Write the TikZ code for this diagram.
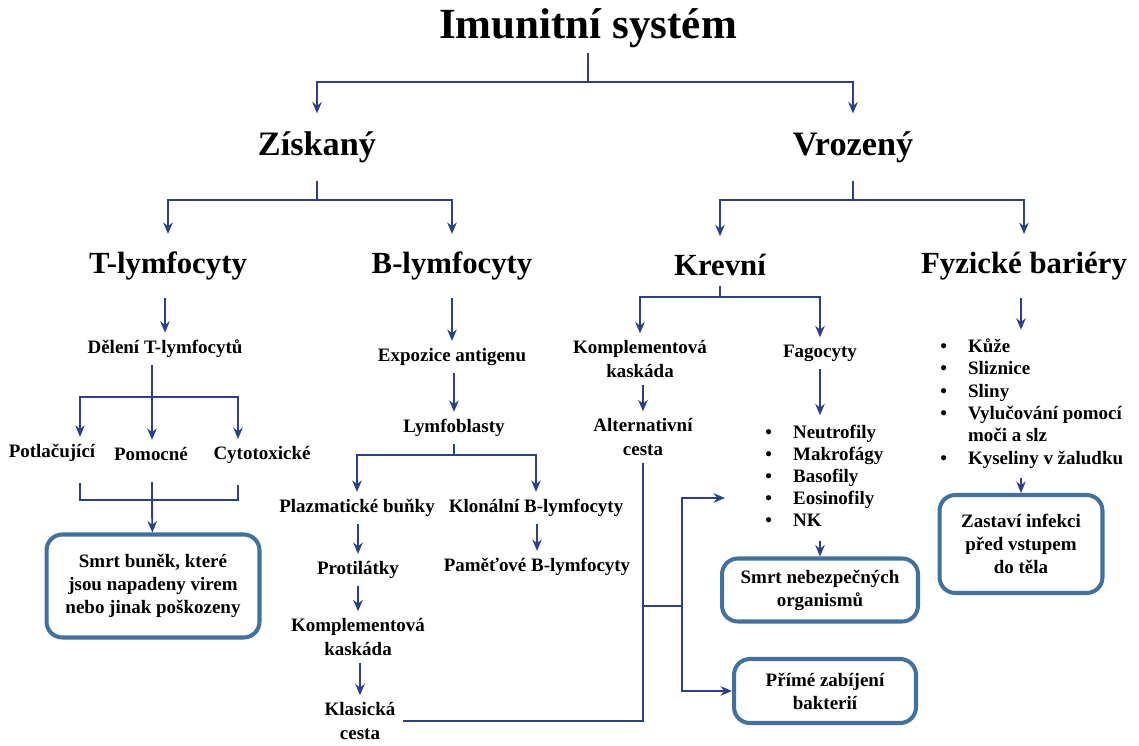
\documentclass[tikz,border=0pt]{standalone}
\usepackage{fontspec}
\setmainfont{Liberation Serif}
\usetikzlibrary{arrows.meta}
\definecolor{lineblue}{RGB}{44,64,138}
\definecolor{boxblue}{RGB}{65,113,156}

\begin{document}
\begin{tikzpicture}[x=0.02cm, y=-0.02cm,
	lvlA/.style={font=\fontsize{24.5}{28}\selectfont\bfseries, inner sep=3pt},
	lvlB/.style={font=\fontsize{19.5}{23}\selectfont\bfseries, inner sep=10pt},
	lvlC/.style={font=\fontsize{17.5}{21}\selectfont\bfseries, inner sep=10pt},
	txt/.style={font=\fontsize{10.8}{13.2}\selectfont\bfseries, align=center, inner sep=4pt},
	endbox/.style={txt, draw=boxblue, line width=2.3pt, rounded corners=9pt},
	link/.style={draw=lineblue, line width=1.1pt},
	arr/.style={link, -{Stealth[length=6.5pt, width=5.4pt]}}]
	\useasboundingbox (0,0) rectangle (1139,746);

	\node[lvlA] (title) at (588,28) {Imunitní systém};

	\node[lvlB] (zisk) at (317,147) {Získaný};
	\node[lvlB] (vroz) at (853,147) {Vrozený};

	\node[lvlC] (tlym) at (168,266) {T-lymfocyty};
	\node[lvlC] (blym) at (452,266) {B-lymfocyty};
	\node[lvlC] (krev) at (720,265) {Krevní};
	\node[lvlC] (fyz) at (1024,266) {Fyzické bariéry};

	% T-lymfocyty
	\node[txt] (delT) at (165,349) {Dělení T-lymfocytů};
	\node[txt] (potl) at (52,453) {Potlačující};
	\node[txt] (pomo) at (151,454) {Pomocné};
	\node[txt] (cyto) at (262,455) {Cytotoxické};
	\node[endbox, minimum width=4.26cm, minimum height=2.06cm] (smrtT) at (153,586) {Smrt buněk, které\\jsou napadeny virem\\nebo jinak poškozeny};

	% B-lymfocyty
	\node[txt] (expo) at (452,357) {Expozice antigenu};
	\node[txt] (lymf) at (454,428) {Lymfoblasty};
	\node[txt] (plaz) at (357,508) {Plazmatické buňky};
	\node[txt] (klon) at (536,508) {Klonální B-lymfocyty};
	\node[txt] (prot) at (358,570) {Protilátky};
	\node[txt] (kompB) at (358,637) {Komplementová\\kaskáda};
	\node[txt] (klas) at (360,721) {Klasická\\cesta};
	\node[txt] (pame) at (537,567) {Paměťové B-lymfocyty};

	% Krevni
	\node[txt] (kompK) at (640,359) {Komplementová\\kaskáda};
	\node[txt] (fago) at (820,353) {Fagocyty};
	\node[txt] (alt) at (643,437) {Alternativní\\cesta};
	\node[txt, anchor=west, font=\fontsize{10.8}{12.6}\selectfont\bfseries] (fagolist) at (758,478) {%
		\begin{tabular}{@{}l@{\hspace{12pt}}l@{}}
			\textbullet & Neutrofily\\
			\textbullet & Makrofágy\\
			\textbullet & Basofily\\
			\textbullet & Eosinofily\\
			\textbullet & NK
		\end{tabular}};
	\node[endbox, minimum width=3.92cm, minimum height=1.26cm] (smrtN) at (820,590) {Smrt nebezpečných\\organismů};
	\node[endbox, minimum width=3.64cm, minimum height=1.28cm] (prime) at (825,691) {Přímé zabíjení\\bakterií};

	% Fyzicke bariery
	\node[txt, anchor=west, font=\fontsize{10.8}{12.7}\selectfont\bfseries] (fyzlist) at (933,404) {%
		\begin{tabular}{@{}l@{\hspace{12pt}}l@{}}
			\textbullet & Kůže\\
			\textbullet & Sliznice\\
			\textbullet & Sliny\\
			\textbullet & Vylučování pomocí\\
			            & moči a slz\\
			\textbullet & Kyseliny v žaludku
		\end{tabular}};
	\node[endbox, minimum width=3.26cm, minimum height=1.96cm] (zast) at (1021,544) {Zastaví infekci\\před vstupem\\do těla};

	% branch points
	\coordinate (jA) at (588,82);
	\coordinate (jZ) at (317,200);
	\coordinate (jV) at (853,200);
	\coordinate (jT) at (152,397);
	\coordinate (jP) at (152,500);
	\coordinate (jL) at (454,455);
	\coordinate (jK) at (720,297);
	\coordinate (jAlt) at (643,606);
	\coordinate (jF) at (682,606);
	\coordinate (fagoIn) at (725,498);

	\draw[link] (title) -- (jA);
	\foreach \to in {zisk,vroz}
		\draw[arr] (jA) -| (\to);
	\draw[link] (zisk) -- (jZ);
	\foreach \to in {tlym,blym}
		\draw[arr] (jZ) -| (\to);
	\draw[link] (vroz) -- (jV);
	\foreach \to in {krev,fyz}
		\draw[arr] (jV) -| (\to);

	\foreach \from / \to in {tlym/delT,blym/expo,expo/lymf,plaz/prot,prot/kompB,kompB/klas,klon/pame,kompK/alt,fagolist/smrtN,fyzlist/zast}
		\draw[arr] (\from.south -| \to) -- (\to);

	% T-lymfocyty split
	\draw[link] (delT.south -| jT) -- (jT);
	\draw[arr] (jT) -| ([xshift=0.56cm]potl.north);
	\draw[arr] (jT) -- (jT |- pomo.north);
	\draw[arr] (jT) -| ([xshift=-0.48cm]cyto.north);
	\draw[link, shorten <=8pt] ([xshift=0.56cm]potl.south) |- (jP);
	\draw[link, shorten <=8pt] ([xshift=-0.48cm]cyto.south) |- (jP);
	\draw[link, shorten <=8pt] (pomo.south -| jP) -- (jP);
	\draw[arr] (jP) -- (smrtT);

	% B-lymfocyty split
	\draw[link] (lymf) -- (jL);
	\foreach \to in {plaz,klon}
		\draw[arr] (jL) -| (\to);

	% Krevni split
	\draw[link, shorten <=6pt] (krev.base) -- (jK);
	\foreach \to in {kompK,fago}
		\draw[arr] (jK) -| (\to);
	\draw[arr] (fago) -- (fago |- fagolist.north);
	\draw[link] (alt) |- (klas);
	\draw[link] (jAlt) -- (jF);
	\draw[arr] (jF) |- (fagoIn);
	\draw[arr] (jF) |- (prime);

	% Fyzicke bariery
	\draw[arr] (fyz.south -| zast) -- (zast |- fyzlist.north);
\end{tikzpicture}
\end{document}
